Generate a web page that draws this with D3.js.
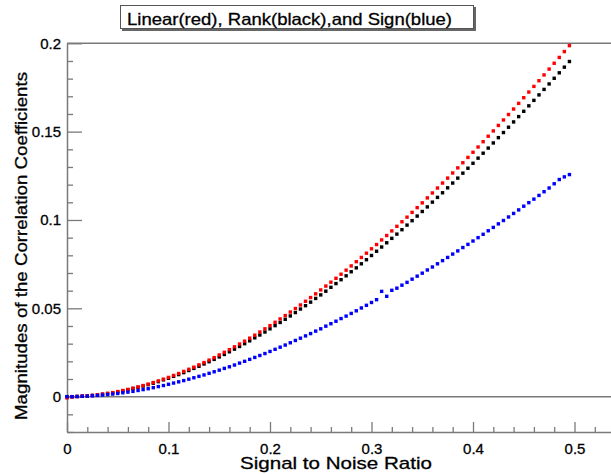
<!DOCTYPE html>
<html>
<head>
<meta charset="utf-8">
<script src="https://cdn.jsdelivr.net/npm/d3@7"></script>
<style>
  html, body { margin: 0; padding: 0; background: #fff; overflow: hidden; }
  text { font-family: "Liberation Sans", Arial, Helvetica, sans-serif; fill: #000; stroke: #000; stroke-width: 0.3; }
</style>
</head>
<body>
<div id="chart"></div>
<script>
const width = 611;
const height = 474;

// signal to noise ratio (x) for every point
const snr = [
  0, 0.005, 0.01, 0.015, 0.02, 0.025, 0.03, 0.035, 0.04, 0.045,
  0.05, 0.055, 0.06, 0.065, 0.07, 0.075, 0.08, 0.085, 0.09, 0.095,
  0.1, 0.105, 0.11, 0.115, 0.12, 0.125, 0.13, 0.135, 0.14, 0.145,
  0.15, 0.155, 0.16, 0.165, 0.17, 0.175, 0.18, 0.185, 0.19, 0.195,
  0.2, 0.205, 0.21, 0.215, 0.22, 0.225, 0.23, 0.235, 0.24, 0.245,
  0.25, 0.255, 0.26, 0.265, 0.27, 0.275, 0.28, 0.285, 0.29, 0.295,
  0.3, 0.305, 0.31, 0.315, 0.32, 0.325, 0.33, 0.335, 0.34, 0.345,
  0.35, 0.355, 0.36, 0.365, 0.37, 0.375, 0.38, 0.385, 0.39, 0.395,
  0.4, 0.405, 0.41, 0.415, 0.42, 0.425, 0.43, 0.435, 0.44, 0.445,
  0.45, 0.455, 0.46, 0.465, 0.47, 0.475, 0.48, 0.485, 0.49, 0.495
];

// Linear (red)
const linear = [
  -0.0007, -0.0002, 0.0001, 0.0003, 0.0005, 0.0007, 0.0011, 0.0014, 0.0018, 0.0023,
  0.0029, 0.0035, 0.0041, 0.0048, 0.0055, 0.0063, 0.0071, 0.0080, 0.0089, 0.0099,
  0.0109, 0.0120, 0.0131, 0.0143, 0.0155, 0.0167, 0.0180, 0.0193, 0.0207, 0.0221,
  0.0236, 0.0251, 0.0266, 0.0282, 0.0298, 0.0314, 0.0331, 0.0348, 0.0366, 0.0384,
  0.0402, 0.0421, 0.0440, 0.0459, 0.0479, 0.0499, 0.0519, 0.0540, 0.0561, 0.0582,
  0.0604, 0.0626, 0.0648, 0.0670, 0.0693, 0.0716, 0.0740, 0.0764, 0.0788, 0.0812,
  0.0837, 0.0861, 0.0887, 0.0912, 0.0938, 0.0964, 0.0990, 0.1016, 0.1043, 0.1070,
  0.1097, 0.1125, 0.1153, 0.1181, 0.1209, 0.1237, 0.1266, 0.1295, 0.1324, 0.1354,
  0.1383, 0.1413, 0.1443, 0.1474, 0.1504, 0.1535, 0.1566, 0.1597, 0.1628, 0.1660,
  0.1692, 0.1724, 0.1756, 0.1788, 0.1821, 0.1854, 0.1887, 0.1920, 0.1953, 0.1987
];

// Rank (black)
const rank = [
  0, 0.0000, 0.0001, 0.0003, 0.0004, 0.0007, 0.0010, 0.0014, 0.0018, 0.0022,
  0.0027, 0.0033, 0.0039, 0.0046, 0.0053, 0.0060, 0.0068, 0.0076, 0.0085, 0.0095,
  0.0104, 0.0115, 0.0125, 0.0136, 0.0148, 0.0160, 0.0172, 0.0185, 0.0198, 0.0211,
  0.0225, 0.0239, 0.0254, 0.0269, 0.0284, 0.0300, 0.0316, 0.0333, 0.0349, 0.0366,
  0.0384, 0.0402, 0.0420, 0.0438, 0.0457, 0.0476, 0.0496, 0.0515, 0.0535, 0.0556,
  0.0576, 0.0597, 0.0619, 0.0640, 0.0662, 0.0684, 0.0707, 0.0729, 0.0752, 0.0775,
  0.0799, 0.0823, 0.0847, 0.0871, 0.0896, 0.0920, 0.0945, 0.0971, 0.0996, 0.1022,
  0.1048, 0.1074, 0.1101, 0.1128, 0.1154, 0.1182, 0.1209, 0.1237, 0.1265, 0.1293,
  0.1321, 0.1350, 0.1378, 0.1407, 0.1436, 0.1466, 0.1495, 0.1525, 0.1555, 0.1585,
  0.1615, 0.1646, 0.1677, 0.1708, 0.1739, 0.1770, 0.1802, 0.1833, 0.1865, 0.1897
];

// Sign (blue)
const sign = [
  0, 0.0000, 0.0001, 0.0002, 0.0003, 0.0005, 0.0007, 0.0009, 0.0012, 0.0015,
  0.0018, 0.0022, 0.0026, 0.0030, 0.0035, 0.0040, 0.0045, 0.0051, 0.0057, 0.0063,
  0.0070, 0.0077, 0.0084, 0.0091, 0.0099, 0.0107, 0.0115, 0.0123, 0.0132, 0.0141,
  0.0150, 0.0160, 0.0169, 0.0179, 0.0190, 0.0200, 0.0211, 0.0222, 0.0233, 0.0244,
  0.0256, 0.0268, 0.0280, 0.0292, 0.0305, 0.0318, 0.0331, 0.0344, 0.0357, 0.0371,
  0.0384, 0.0399, 0.0413, 0.0427, 0.0442, 0.0456, 0.0471, 0.0486, 0.0502, 0.0517,
  0.0533, 0.0549, 0.0596, 0.0568, 0.0602, 0.0614, 0.0631, 0.0647, 0.0665, 0.0682,
  0.0699, 0.0717, 0.0734, 0.0752, 0.0770, 0.0788, 0.0807, 0.0825, 0.0844, 0.0862,
  0.0881, 0.0900, 0.0919, 0.0939, 0.0958, 0.0978, 0.0997, 0.1017, 0.1037, 0.1057,
  0.1078, 0.1098, 0.1118, 0.1139, 0.1160, 0.1181, 0.1205, 0.1229, 0.1244, 0.1257
];

const xTicks = [0, 0.1, 0.2, 0.3, 0.4, 0.5];
const xTickLabels = ["0", "0.1", "0.2", "0.3", "0.4", "0.5"];
const yTicks = [0, 0.05, 0.1, 0.15, 0.2];
const yTickLabels = ["0", "0.05", "0.1", "0.15", "0.2"];
const xMinor = [0.02, 0.04, 0.06, 0.08, 0.12, 0.14, 0.16, 0.18, 0.22, 0.24, 0.26, 0.28,
  0.32, 0.34, 0.36, 0.38, 0.42, 0.44, 0.46, 0.48, 0.52, 0.54];
const yMinor = [-0.02, -0.01, 0.01, 0.02, 0.03, 0.04, 0.06, 0.07, 0.08, 0.09, 0.11, 0.12,
  0.13, 0.14, 0.16, 0.17, 0.18, 0.19];

const title = "Linear(red), Rank(black),and Sign(blue)";
const xTitle = "Signal to Noise Ratio";
const yTitle = "Magnitudes of the Correlation Coefficients";

// series drawn black first, then red, then blue on top
const series = [
  { values: rank, color: "#000000" },
  { values: linear, color: "#ff0000" },
  { values: sign, color: "#0000ff" }
];

const plotLeft = 67, plotTop = 43.3, plotBottom = 432;
const x = d3.scaleLinear().domain([0, 0.54]).range([plotLeft, plotLeft + 0.54 * 1015]);
const y = d3.scaleLinear().domain([-0.02, 0.2]).range([plotBottom, plotTop]);

const svg = d3.select("#chart")
    .append("svg")
    .attr("width", width)
    .attr("height", height)
    .attr("viewBox", `0 0 ${width} ${height}`);

const axisColor = "#7a7a7a";

// Title box with shadow
svg.append("rect").attr("x", 122).attr("y", 7).attr("width", 354).attr("height", 24).attr("fill", "#666");
svg.append("rect").attr("x", 120.5).attr("y", 5.5).attr("width", 353).attr("height", 23)
    .attr("fill", "#fff").attr("stroke", "#555").attr("stroke-width", 1);
svg.append("text")
    .attr("x", 127).attr("y", 24.5)
    .attr("font-size", 16.5)
    .attr("textLength", 325)
    .attr("lengthAdjust", "spacingAndGlyphs")
    .text(title);

// top frame line and zero line
svg.append("line").attr("x1", plotLeft).attr("x2", width).attr("y1", plotTop).attr("y2", plotTop)
    .attr("stroke", axisColor).attr("stroke-width", 1.5);
svg.append("line").attr("x1", plotLeft).attr("x2", width).attr("y1", y(0)).attr("y2", y(0))
    .attr("stroke", axisColor).attr("stroke-width", 1.5);

// Y axis: major ticks with labels, minor ticks inward
svg.append("g").attr("transform", `translate(${plotLeft},0)`)
    .call(d3.axisLeft(y).tickValues(yTicks).tickSizeInner(-15).tickSizeOuter(0).tickPadding(6)
        .tickFormat((d, i) => yTickLabels[i]));
svg.append("g").attr("transform", `translate(${plotLeft},0)`)
    .call(d3.axisLeft(y).tickValues(yMinor).tickSizeInner(-6).tickSizeOuter(0).tickFormat(""))
    .select(".domain").remove();

// X axis
svg.append("g").attr("transform", `translate(0,${plotBottom})`)
    .call(d3.axisBottom(x).tickValues(xTicks).tickSizeInner(-10).tickSizeOuter(0).tickPadding(11)
        .tickFormat((d, i) => xTickLabels[i]));
svg.append("g").attr("transform", `translate(0,${plotBottom})`)
    .call(d3.axisBottom(x).tickValues(xMinor).tickSizeInner(-5).tickSizeOuter(0).tickFormat(""))
    .select(".domain").remove();

svg.selectAll(".domain").attr("stroke", axisColor).attr("stroke-width", 1.5);
svg.selectAll(".tick line").attr("stroke", axisColor).attr("stroke-width", 1.3);
svg.selectAll(".tick text")
    .attr("font-family", "'Liberation Sans', Arial, Helvetica, sans-serif")
    .attr("font-size", 15)
    .attr("fill", "#000");

// axis titles
svg.append("text")
    .attr("x", 240).attr("y", 469)
    .attr("font-size", 17)
    .attr("textLength", 192)
    .attr("lengthAdjust", "spacingAndGlyphs")
    .text(xTitle);

svg.append("text")
    .attr("transform", "translate(26.5,420) rotate(-90)")
    .attr("font-size", 17)
    .attr("textLength", 348)
    .attr("lengthAdjust", "spacingAndGlyphs")
    .text(yTitle);

// points
const s = 3.4;
series.forEach(ser => {
  svg.append("g").selectAll("rect")
      .data(ser.values)
      .join("rect")
      .attr("x", (d, i) => x(snr[i]) - s / 2)
      .attr("y", d => y(d) - s / 2)
      .attr("width", s)
      .attr("height", s)
      .attr("fill", ser.color);
});
</script>
</body>
</html>
